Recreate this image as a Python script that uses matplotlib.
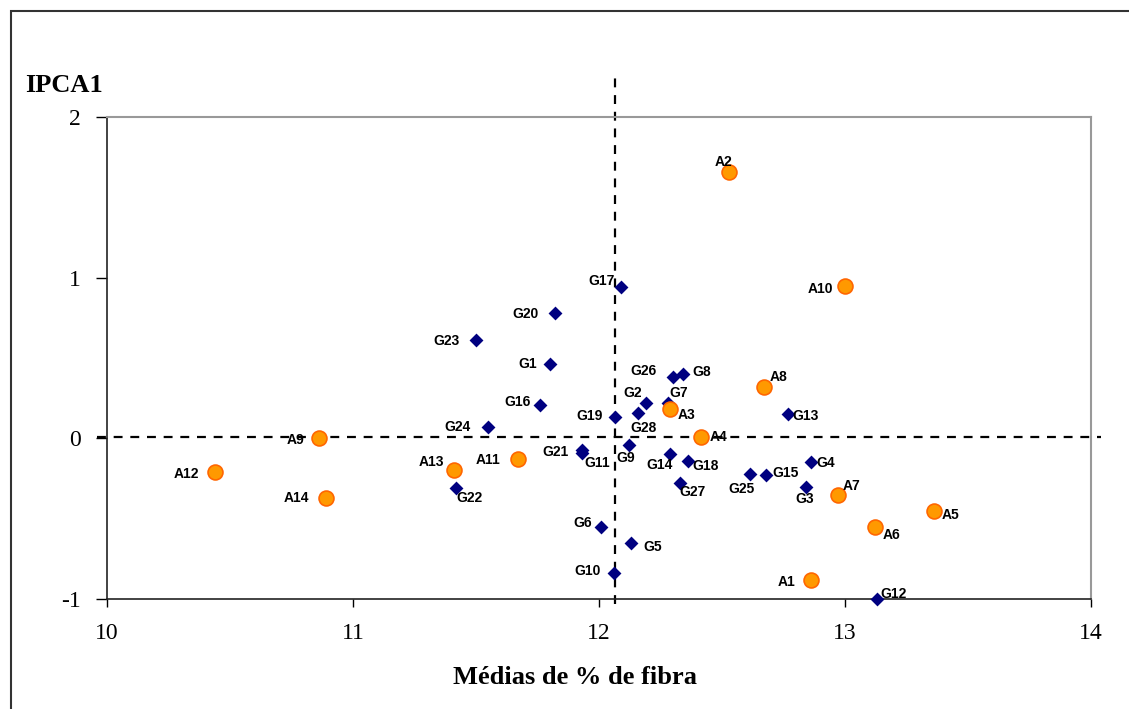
import matplotlib
matplotlib.use("Agg")
import matplotlib.pyplot as plt
from matplotlib.patches import Rectangle

# ---- data ----
g_names = ["G1", "G2", "G3", "G4", "G5", "G6", "G7", "G8", "G9", "G10", "G11", "G12", "G13", "G14",
           "G15", "G16", "G17", "G18", "G19", "G20", "G21", "G22", "G23", "G24", "G25", "G26", "G27", "G28"]
g_x = [11.80, 12.19, 12.84, 12.86, 12.13, 12.01, 12.28, 12.34, 12.12, 12.06, 11.93, 13.13, 12.77, 12.29,
       12.68, 11.76, 12.09, 12.36, 12.065, 11.82, 11.93, 11.42, 11.50, 11.55, 12.615, 12.30, 12.33, 12.16]
g_y = [0.46, 0.22, -0.30, -0.15, -0.65, -0.55, 0.22, 0.40, -0.04, -0.84, -0.09, -1.00, 0.15, -0.10,
       -0.23, 0.21, 0.94, -0.14, 0.135, 0.78, -0.07, -0.31, 0.61, 0.07, -0.22, 0.38, -0.28, 0.16]

a_names = ["A1", "A2", "A3", "A4", "A5", "A6", "A7", "A8", "A9", "A10", "A11", "A12", "A13", "A14"]
a_x = [12.86, 12.53, 12.29, 12.415, 13.36, 13.12, 12.97, 12.67, 10.86, 13.00, 11.67, 10.44, 11.41, 10.89]
a_y = [-0.88, 1.66, 0.18, 0.01, -0.45, -0.55, -0.35, 0.32, 0.00, 0.95, -0.13, -0.21, -0.20, -0.37]

x_ticks = [10, 11, 12, 13, 14]
y_ticks = [-1, 0, 1, 2]
ref_x = 12.065
ref_y = 0.01

# ---- label offsets (pixels) ----
g_off = {"G17": (-20, 6), "G20": (-29, -1), "G23": (-30, -1), "G1": (-22, 0), "G26": (-29, 6),
         "G8": (19, 2), "G2": (-13, 10), "G7": (11, 10), "G28": (5, -15), "G16": (-22, 3),
         "G19": (-25, 1), "G24": (-31, 0), "G21": (-26, -2), "G11": (15, -10), "G9": (-3, -13),
         "G14": (-11, -11), "G18": (18, -5), "G27": (12, -9), "G22": (13, -10), "G25": (-9, -15),
         "G15": (19, 2), "G4": (15, -1), "G3": (-1, -12), "G13": (17, -2), "G6": (-19, 4),
         "G5": (22, -4), "G10": (-26, 2), "G12": (17, 5)}
a_off = {"A2": (-6, 10), "A10": (-25, -3), "A8": (15, 10), "A3": (16, -6), "A4": (17, 0),
         "A9": (-23, -2), "A12": (-29, -2), "A14": (-30, 0), "A13": (-22, 8), "A11": (-30, -1),
         "A7": (14, 9), "A5": (17, -4), "A6": (17, -8), "A1": (-24, -2)}

fig = plt.figure(figsize=(11.29, 7.09), dpi=100)
ax = fig.add_axes([107 / 1129, 1 - 599 / 709, (1091 - 107) / 1129, (599 - 117) / 709])

ax.set_xlim(10, 14)
ax.set_ylim(-1, 2)

# reference dashed lines (extend beyond axes)
ax.plot([ref_x, ref_x], [-1.03, 2.27], color="black", lw=1.6, ls=(0, (4, 3.5)), clip_on=False, zorder=1)
ax.plot([9.96, 14.04], [ref_y, ref_y], color="black", lw=1.6, ls=(0, (4, 3.5)), clip_on=False, zorder=1)

ax.scatter(g_x, g_y, marker="D", s=50, color="#000080", zorder=3, clip_on=False, linewidths=0)
ax.scatter(a_x, a_y, marker="o", s=115, facecolor="#FF9900", edgecolor="#FF6600", linewidths=1.2,
           zorder=3, clip_on=False)

lab_font = dict(family=["Liberation Sans", "DejaVu Sans"], fontsize=10, fontweight="bold", color="black")
for n, x, y in zip(g_names, g_x, g_y):
    dx, dy = g_off[n]
    ax.annotate(n, (x, y), xytext=(dx, dy), textcoords="offset pixels", ha="center", va="center",
                zorder=4, annotation_clip=False, **lab_font)
for n, x, y in zip(a_names, a_x, a_y):
    dx, dy = a_off[n]
    ax.annotate(n, (x, y), xytext=(dx, dy), textcoords="offset pixels", ha="center", va="center",
                zorder=4, annotation_clip=False, **lab_font)

ax.set_xticks(x_ticks)
ax.set_yticks(y_ticks)
ax.set_xticklabels([str(t) for t in x_ticks])
ax.set_yticklabels([str(t) for t in y_ticks])
for lbl in ax.get_xticklabels() + ax.get_yticklabels():
    lbl.set_family(["Liberation Serif", "DejaVu Serif"])
    lbl.set_fontsize(17)
ax.tick_params(axis="x", direction="out", length=6, width=1, pad=11, colors="black")
ax.tick_params(axis="y", direction="out", length=8, width=1, pad=11, colors="black")

for s in ["left", "bottom"]:
    ax.spines[s].set_color("#222222")
    ax.spines[s].set_linewidth(1.2)
for s in ["top", "right"]:
    ax.spines[s].set_color("#999999")
    ax.spines[s].set_linewidth(1.5)

fig.text(25 / 1129, 1 - 85 / 709, "IPCA1", family=["Liberation Serif", "DejaVu Serif"], fontsize=19,
         fontweight="bold", ha="left", va="center")
fig.text(575 / 1129, 1 - 677 / 709, "Médias de % de fibra", family=["Liberation Serif", "DejaVu Serif"],
         fontsize=19, fontweight="bold", ha="center", va="center")

# outer frame
fig.patches.append(Rectangle((11 / 1129, -0.05), 1.2, 1 - 11 / 709 + 0.05, transform=fig.transFigure,
                             fill=False, edgecolor="#333333", lw=1.5))

fig.savefig("out.png", dpi=100)
